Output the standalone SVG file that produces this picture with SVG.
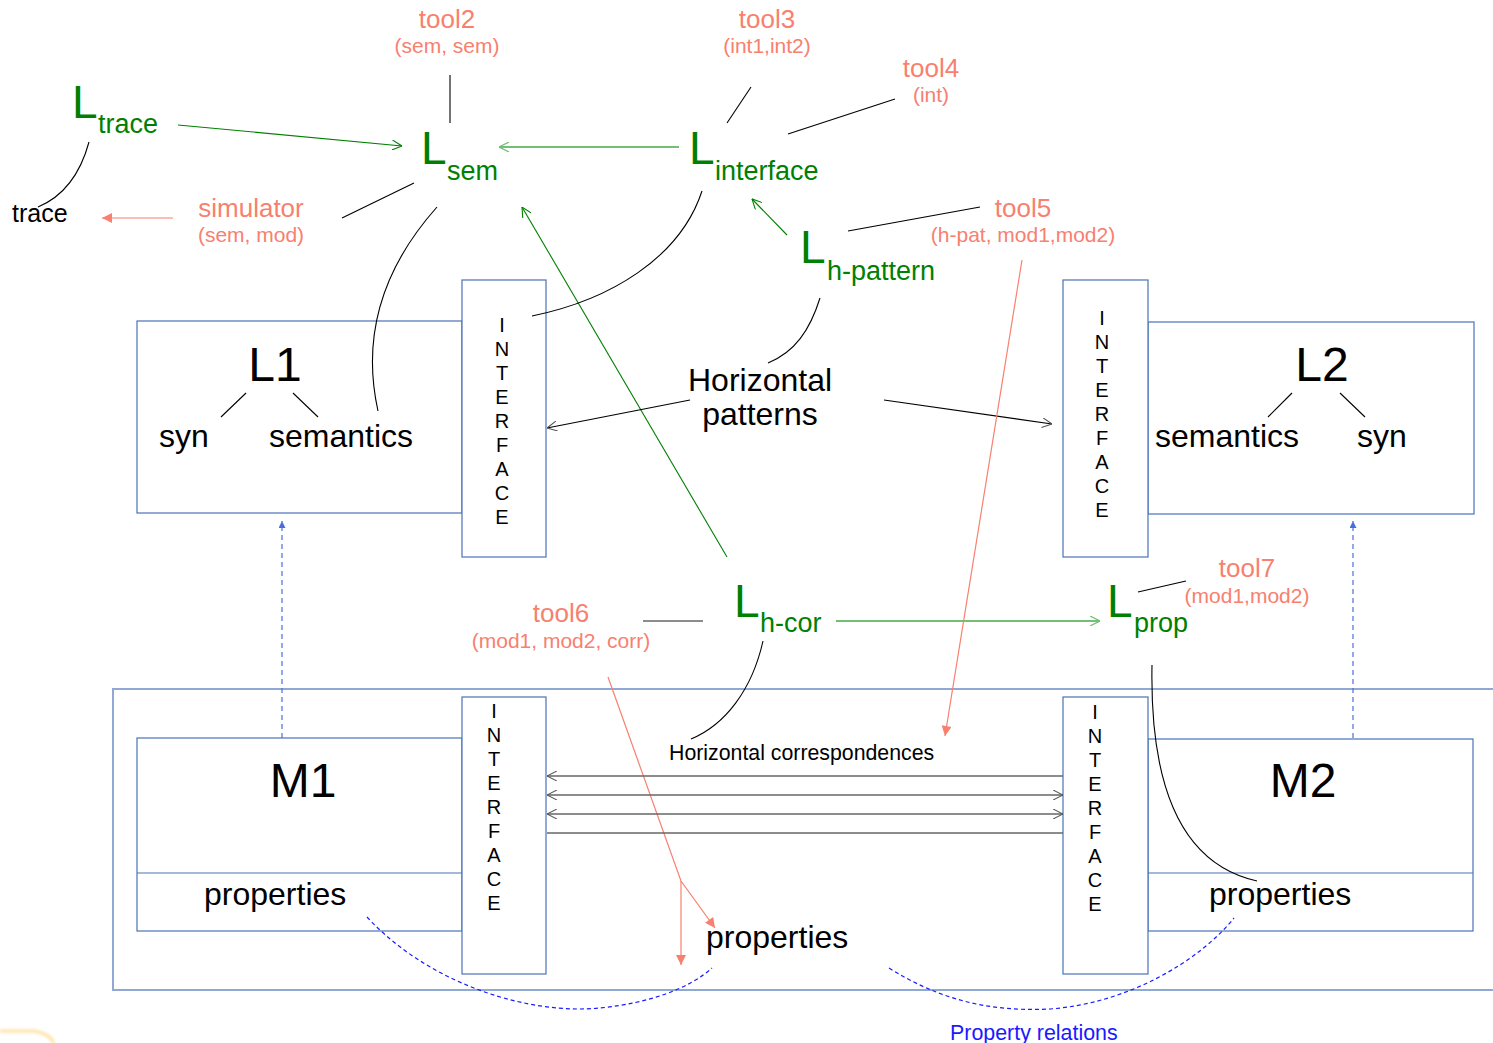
<svg xmlns="http://www.w3.org/2000/svg" width="1493" height="1043" viewBox="0 0 1493 1043">
  <defs>
    <style>
      text { font-family: "Liberation Sans", Arial, sans-serif; }
      .box { fill: #ffffff; stroke: #4a72b8; stroke-width: 1.2; }
      .outer { fill: none; stroke: #8eaad4; stroke-width: 2; }
      .big { font-size: 48px; fill: #000; }
      .mid { font-size: 32px; fill: #000; }
      .ifc { font-size: 20px; fill: #000; text-anchor: middle; }
      .lang-L { font-size: 46px; fill: #008000; }
      .lang-sub { font-size: 27px; fill: #008000; }
      .tool { font-size: 26px; fill: #f8806f; text-anchor: middle; }
      .args { font-size: 21px; fill: #f8806f; text-anchor: middle; }
      .link { fill: none; stroke: #000; stroke-width: 1.1; }
      .glink { fill: none; stroke: #008000; stroke-width: 1.1; marker-end: url(#open-green); }
      .lglink { fill: none; stroke: #74bf74; stroke-width: 2; marker-end: url(#open-lightgreen); }
      .hlink { fill: none; stroke: #666; stroke-width: 1.6; }
      .rlink { fill: none; stroke: #f8806f; stroke-width: 1.2; }
      .bdash { fill: none; stroke: #4a6fdc; stroke-width: 1.2; stroke-dasharray: 5 4; marker-end: url(#solid-blue); }
      .rel { fill: none; stroke: #1a1aff; stroke-width: 1.2; stroke-dasharray: 4 3; }
    </style>
    <marker id="open-green" viewBox="0 0 10 10" refX="10" refY="5" markerWidth="10" markerHeight="10" markerUnits="userSpaceOnUse" orient="auto">
      <path d="M0,0 L10,5 L0,10" fill="none" stroke="#008000" stroke-width="1.1"/>
    </marker>
    <marker id="open-lightgreen" viewBox="0 0 10 10" refX="10" refY="5" markerWidth="10" markerHeight="10" markerUnits="userSpaceOnUse" orient="auto">
      <path d="M0,0 L10,5 L0,10" fill="none" stroke="#74bf74" stroke-width="1.2"/>
    </marker>
    <marker id="open-gray" viewBox="0 0 10 10" refX="10" refY="5" markerWidth="10" markerHeight="10" markerUnits="userSpaceOnUse" orient="auto-start-reverse">
      <path d="M0,0 L10,5 L0,10" fill="none" stroke="#555" stroke-width="1.1"/>
    </marker>
    <marker id="solid-salmon" viewBox="0 0 10 10" refX="10" refY="5" markerWidth="12" markerHeight="10" markerUnits="userSpaceOnUse" orient="auto">
      <path d="M0,0 L10,5 L0,10 Z" fill="#f8806f"/>
    </marker>
    <marker id="solid-blue" viewBox="0 0 10 10" refX="10" refY="5" markerWidth="8" markerHeight="7" markerUnits="userSpaceOnUse" orient="auto">
      <path d="M0,0 L10,5 L0,10 Z" fill="#4a6fdc"/>
    </marker>
    <filter id="soft" x="-50%" y="-50%" width="200%" height="200%">
      <feGaussianBlur stdDeviation="1.5"/>
    </filter>
  </defs>

  <rect width="1493" height="1043" fill="#ffffff"/>

  <!-- model layer frame -->
  <rect class="outer" x="113" y="689" width="1400" height="301"/>

  <!-- language L1 with its interface -->
  <g id="L1">
    <rect class="box" x="137" y="321" width="325" height="192"/>
    <text class="big" x="275" y="381" text-anchor="middle">L1</text>
    <line class="link" x1="246" y1="393" x2="221" y2="417"/>
    <line class="link" x1="293" y1="393" x2="318" y2="417"/>
    <text class="mid" x="159" y="447">syn</text>
    <text class="mid" x="269" y="447">semantics</text>
  </g>
  <g id="L1-interface">
    <rect class="box" x="462" y="280" width="84" height="277"/>
    <text class="ifc"><tspan x="502" y="332">I</tspan><tspan x="502" y="356">N</tspan><tspan x="502" y="380">T</tspan><tspan x="502" y="404">E</tspan><tspan x="502" y="428">R</tspan><tspan x="502" y="452">F</tspan><tspan x="502" y="476">A</tspan><tspan x="502" y="500">C</tspan><tspan x="502" y="524">E</tspan></text>
  </g>

  <!-- language L2 with its interface -->
  <g id="L2">
    <rect class="box" x="1148" y="322" width="326" height="192"/>
    <text class="big" x="1322" y="381" text-anchor="middle">L2</text>
    <line class="link" x1="1292" y1="393" x2="1268" y2="417"/>
    <line class="link" x1="1340" y1="393" x2="1365" y2="417"/>
    <text class="mid" x="1155" y="447">semantics</text>
    <text class="mid" x="1357" y="447">syn</text>
  </g>
  <g id="L2-interface">
    <rect class="box" x="1063" y="280" width="85" height="277"/>
    <text class="ifc"><tspan x="1102" y="325">I</tspan><tspan x="1102" y="349">N</tspan><tspan x="1102" y="373">T</tspan><tspan x="1102" y="397">E</tspan><tspan x="1102" y="421">R</tspan><tspan x="1102" y="445">F</tspan><tspan x="1102" y="469">A</tspan><tspan x="1102" y="493">C</tspan><tspan x="1102" y="517">E</tspan></text>
  </g>

  <!-- model M1 with its interface -->
  <g id="M1">
    <rect class="box" x="137" y="738" width="325" height="193"/>
    <line x1="137" y1="873" x2="462" y2="873" stroke="#4a72b8" stroke-width="1.2"/>
    <text class="big" x="303" y="797" text-anchor="middle" font-size="46">M1</text>
    <text class="mid" x="204" y="905">properties</text>
  </g>
  <g id="M1-interface">
    <rect class="box" x="462" y="697" width="84" height="277"/>
    <text class="ifc"><tspan x="494" y="718">I</tspan><tspan x="494" y="742">N</tspan><tspan x="494" y="766">T</tspan><tspan x="494" y="790">E</tspan><tspan x="494" y="814">R</tspan><tspan x="494" y="838">F</tspan><tspan x="494" y="862">A</tspan><tspan x="494" y="886">C</tspan><tspan x="494" y="910">E</tspan></text>
  </g>

  <!-- model M2 with its interface -->
  <g id="M2">
    <rect class="box" x="1148" y="739" width="325" height="192"/>
    <line x1="1148" y1="873" x2="1473" y2="873" stroke="#4a72b8" stroke-width="1.2"/>
    <text class="big" x="1303" y="797" text-anchor="middle" font-size="46">M2</text>
    <text class="mid" x="1209" y="905">properties</text>
  </g>
  <g id="M2-interface">
    <rect class="box" x="1063" y="697" width="85" height="277"/>
    <text class="ifc"><tspan x="1095" y="719">I</tspan><tspan x="1095" y="743">N</tspan><tspan x="1095" y="767">T</tspan><tspan x="1095" y="791">E</tspan><tspan x="1095" y="815">R</tspan><tspan x="1095" y="839">F</tspan><tspan x="1095" y="863">A</tspan><tspan x="1095" y="887">C</tspan><tspan x="1095" y="911">E</tspan></text>
  </g>

  <!-- languages -->
  <g id="L-trace">
    <text class="lang-L" x="72" y="118">L</text>
    <text class="lang-sub" x="98" y="133">trace</text>
  </g>
  <g id="L-sem">
    <text class="lang-L" x="421" y="164">L</text>
    <text class="lang-sub" x="447" y="180">sem</text>
  </g>
  <g id="L-interface">
    <text class="lang-L" x="689" y="164">L</text>
    <text class="lang-sub" x="715" y="180">interface</text>
  </g>
  <g id="L-h-pattern">
    <text class="lang-L" x="800" y="263">L</text>
    <text class="lang-sub" x="827" y="280">h-pattern</text>
  </g>
  <g id="L-h-cor">
    <text class="lang-L" x="734" y="617">L</text>
    <text class="lang-sub" x="760" y="632">h-cor</text>
  </g>
  <g id="L-prop">
    <text class="lang-L" x="1107" y="617">L</text>
    <text class="lang-sub" x="1134" y="632">prop</text>
  </g>

  <!-- plain labels -->
  <g id="trace"><text x="12" y="222" font-size="25" fill="#000">trace</text></g>
  <g id="horizontal-patterns">
    <text x="760" y="391" font-size="32" fill="#000" text-anchor="middle">Horizontal</text>
    <text x="760" y="425" font-size="32" fill="#000" text-anchor="middle">patterns</text>
  </g>
  <g id="horizontal-correspondences"><text x="669" y="760" font-size="21.3" fill="#000">Horizontal correspondences</text></g>
  <g id="properties-shared"><text class="mid" x="706" y="948">properties</text></g>
  <g id="property-relations"><text x="950" y="1040" font-size="21.4" fill="#1a1aff">Property relations</text></g>

  <!-- tools -->
  <g id="tool2"><text class="tool" x="447" y="28">tool2</text><text class="args" x="447" y="53">(sem, sem)</text></g>
  <g id="tool3"><text class="tool" x="767" y="28">tool3</text><text class="args" x="767" y="53">(int1,int2)</text></g>
  <g id="tool4"><text class="tool" x="931" y="77">tool4</text><text class="args" x="931" y="102">(int)</text></g>
  <g id="simulator"><text class="tool" x="251" y="217">simulator</text><text class="args" x="251" y="242">(sem, mod)</text></g>
  <g id="tool5"><text class="tool" x="1023" y="217">tool5</text><text class="args" x="1023" y="242">(h-pat, mod1,mod2)</text></g>
  <g id="tool6"><text class="tool" x="561" y="622">tool6</text><text class="args" x="561" y="648">(mod1, mod2, corr)</text></g>
  <g id="tool7"><text class="tool" x="1247" y="577">tool7</text><text class="args" x="1247" y="603">(mod1,mod2)</text></g>

  <!-- connectors -->
  <g id="connectors">
    <!-- tool attachments -->
    <line class="link" x1="450" y1="75" x2="450" y2="123"/>
    <line class="link" x1="751" y1="87" x2="727" y2="123"/>
    <line class="link" x1="895" y1="99" x2="788" y2="134"/>
    <line class="link" x1="342" y1="218" x2="414" y2="183"/>
    <line class="link" x1="848" y1="231" x2="980" y2="207"/>
    <line class="link" x1="1138" y1="592" x2="1186" y2="581"/>
    <line class="hlink" x1="643" y1="621" x2="703" y2="621"/>

    <!-- language relations -->
    <line class="glink" x1="178" y1="125" x2="402" y2="146"/>
    <line class="lglink" x1="679" y1="147" x2="499" y2="147"/>
    <line class="glink" x1="787" y1="235" x2="752" y2="199"/>
    <line class="glink" x1="727" y1="557" x2="522" y2="207"/>
    <line class="lglink" x1="836" y1="621" x2="1100" y2="621"/>

    <!-- instance-of curves -->
    <path class="link" d="M89,142 C80,175 62,197 38,207"/>
    <path class="link" d="M437,207 C388,262 360,330 378,411"/>
    <path class="link" d="M702,191 C680,258 610,300 532,316"/>
    <path class="link" d="M820,298 C810,330 795,352 768,363"/>
    <path class="link" d="M763,641 C752,690 725,725 691,739"/>
    <path class="link" d="M1152,665 C1150,770 1172,862 1257,881"/>

    <!-- simulator output -->
    <line class="rlink" x1="173" y1="218" x2="102" y2="218" marker-end="url(#solid-salmon)"/>

    <!-- horizontal patterns to interfaces -->
    <line class="link" x1="690" y1="400" x2="547" y2="428" stroke="#444" marker-end="url(#open-gray)"/>
    <line class="link" x1="884" y1="400" x2="1052" y2="424" stroke="#444" marker-end="url(#open-gray)"/>

    <!-- tool5 and tool6 outputs -->
    <line class="rlink" x1="1022" y1="260" x2="945" y2="736" marker-end="url(#solid-salmon)"/>
    <polyline class="rlink" points="608,677 681,881 715,928" marker-end="url(#solid-salmon)"/>
    <line class="rlink" x1="681" y1="881" x2="681" y2="965" marker-end="url(#solid-salmon)"/>

    <!-- horizontal correspondences between model interfaces -->
    <line class="hlink" x1="1063" y1="776" x2="547" y2="776" marker-end="url(#open-gray)"/>
    <line class="hlink" x1="547" y1="795" x2="1063" y2="795" marker-start="url(#open-gray)" marker-end="url(#open-gray)"/>
    <line class="hlink" x1="547" y1="814" x2="1063" y2="814" marker-start="url(#open-gray)" marker-end="url(#open-gray)"/>
    <line class="hlink" x1="547" y1="833" x2="1063" y2="833"/>

    <!-- conformance of models to languages -->
    <line class="bdash" x1="282" y1="738" x2="282" y2="521"/>
    <line class="bdash" x1="1353" y1="738" x2="1353" y2="521"/>

    <!-- property relations -->
    <path class="rel" d="M367,917 C430,985 530,1015 600,1008 C650,1003 690,988 712,968"/>
    <path class="rel" d="M889,968 C940,1000 990,1012 1050,1009 C1130,1003 1200,960 1234,918"/>
  </g>

  <!-- soft highlight in the lower left corner -->
  <path d="M0,1031 L30,1031 C42,1031 50,1036 54,1043" fill="none" stroke="#ffd98a" stroke-width="3" filter="url(#soft)" opacity="0.8"/>
</svg>
